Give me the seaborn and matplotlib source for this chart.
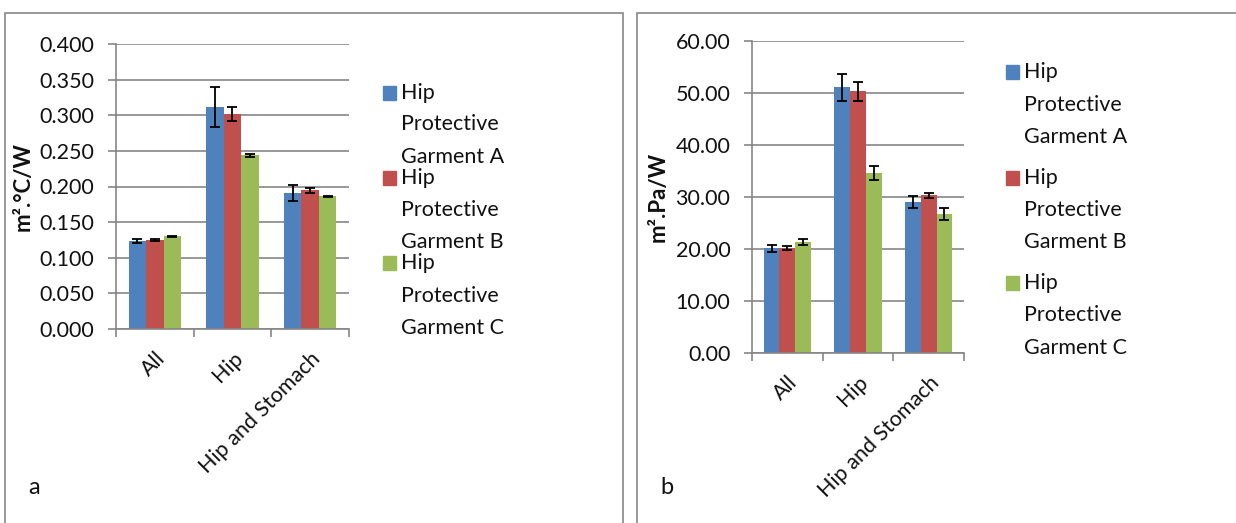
import numpy as np
import pandas as pd
import matplotlib
matplotlib.use("Agg")
import matplotlib.pyplot as plt
from matplotlib.patches import Rectangle
import seaborn as sns

# data
categories = ["All", "Hip", "Hip and Stomach"]
garments = ["Hip Protective Garment A", "Hip Protective Garment B", "Hip Protective Garment C"]

# panel a: thermal resistance (m2.C/W)
thermal_A = [0.124, 0.311, 0.191]
thermal_B = [0.125, 0.302, 0.195]
thermal_C = [0.130, 0.244, 0.186]
thermal_err_A = [0.003, 0.028, 0.011]
thermal_err_B = [0.001, 0.010, 0.0035]
thermal_err_C = [0.0007, 0.002, 0.001]

# panel b: evaporative resistance (m2.Pa/W)
evap_A = [20.1, 51.1, 29.0]
evap_B = [20.2, 50.3, 30.3]
evap_C = [21.3, 34.6, 26.7]
evap_err_A = [0.6, 2.6, 1.1]
evap_err_B = [0.4, 1.9, 0.4]
evap_err_C = [0.6, 1.3, 1.1]

colors = ["#4F81BD", "#C0504D", "#9BBB59"]
grid_col = "#868686"

sns.set_theme(style="white")
plt.rcParams["font.family"] = ["Lato", "DejaVu Sans"]
plt.rcParams["text.color"] = "#111111"

W, H = 1236, 523
fig = plt.figure(figsize=(W / 100, H / 100), dpi=100)


def px(x0, y0, x1, y1):
    # pixel box -> figure fraction [left, bottom, width, height]
    return [x0 / W, 1 - y1 / H, (x1 - x0) / W, (y1 - y0) / H]


def make_df(a, b, c):
    rows = []
    for g, vals in zip(garments, [a, b, c]):
        for cat, v in zip(categories, vals):
            rows.append({"cat": cat, "garment": g, "value": v})
    return pd.DataFrame(rows)


def draw_panel(rect, vals, errs, ymax, step, fmt, ylabel, label_x):
    ax = fig.add_axes(rect)
    df = make_df(*vals)
    sns.barplot(data=df, x="cat", y="value", hue="garment", hue_order=garments,
                palette=colors, width=0.67, errorbar=None, saturation=1,
                edgecolor="none", ax=ax, legend=False)
    for cont, err in zip(ax.containers, errs):
        xs = [p.get_x() + p.get_width() / 2 for p in cont.patches]
        hs = [p.get_height() for p in cont.patches]
        ax.errorbar(xs, hs, yerr=err, fmt="none", ecolor="black",
                    elinewidth=1.3, capsize=3.8, capthick=1.3, zorder=5)
    ax.set_xlim(-0.5, 2.5)
    ax.set_ylim(0, ymax)
    ax.set_yticks(np.arange(0, ymax + step / 2, step))
    ax.set_yticklabels([fmt.format(t) for t in ax.get_yticks()], fontsize=15.5)
    ax.yaxis.grid(True, color=grid_col, lw=1.2)
    ax.set_axisbelow(True)
    ax.tick_params(axis="y", length=5.5, width=1.2, color=grid_col, pad=10, left=True,
                   labelcolor="#111111")
    ax.set_xticks([0, 1, 2])
    ax.set_xticklabels(categories, rotation=45, ha="right", rotation_mode="anchor", fontsize=15.5)
    ax.tick_params(axis="x", which="major", length=0, pad=14, labelcolor="#111111")
    ax.set_xticks([-0.5, 0.5, 1.5, 2.5], minor=True)
    ax.tick_params(axis="x", which="minor", length=5.5, width=1.2, color=grid_col, bottom=True)
    for s in ["top", "right"]:
        ax.spines[s].set_visible(False)
    for s in ["left", "bottom"]:
        ax.spines[s].set_color(grid_col)
        ax.spines[s].set_linewidth(1.2)
    ax.set_xlabel("")
    ax.set_ylabel(ylabel, fontsize=16, fontweight="bold", color="#111111")
    ax.yaxis.set_label_coords(label_x, 0.5)
    return ax


ax_a = draw_panel(px(116, 44, 349, 329),
                  [thermal_A, thermal_B, thermal_C],
                  [thermal_err_A, thermal_err_B, thermal_err_C],
                  0.4, 0.05, "{:.3f}", "m².°C/W", -0.355)
ax_b = draw_panel(px(752, 41, 964, 353),
                  [evap_A, evap_B, evap_C],
                  [evap_err_A, evap_err_B, evap_err_C],
                  60, 10, "{:.2f}", "m².Pa/W", -0.395)

# panel frames
for x0, x1 in [(5, 623), (637, 1250)]:
    fig.patches.append(Rectangle((x0 / W, -0.05), (x1 - x0) / W, 1 - 13 / H + 0.05,
                                 transform=fig.transFigure, fill=False,
                                 edgecolor=grid_col, lw=1.2))

# legends (wrapped over three lines, swatch beside the first line)
def draw_legend(xh, xt, line_y):
    for col, g, ys in zip(colors, garments, line_y):
        fig.patches.append(Rectangle(((xh) / W, 1 - (ys[0] + 7) / H), 12.5 / W, 14 / H,
                                     transform=fig.transFigure, color=col))
        words = g.split(" ")
        lines = [words[0], words[1], " ".join(words[2:])]
        for ln, y in zip(lines, ys):
            fig.text(xt / W, 1 - y / H, ln, fontsize=15.5, va="center", ha="left")


draw_legend(383, 401, [(93, 124, 157), (178, 210, 242), (263, 296, 328)])
draw_legend(1006, 1024, [(72, 105, 137), (178, 210, 242), (283, 315, 348)])

fig.text(28 / W, 1 - 487 / H, "a", fontsize=17, va="center", ha="left")
fig.text(660 / W, 1 - 487 / H, "b", fontsize=17, va="center", ha="left")

fig.savefig("out.png", dpi=100)
